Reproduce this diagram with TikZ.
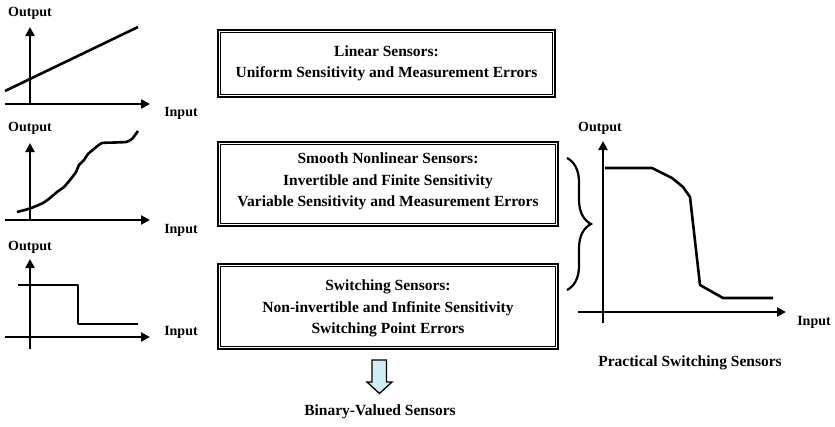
\documentclass[tikz,border=0pt]{standalone}
\usepackage{fontspec}
\setmainfont{Liberation Serif}
\usetikzlibrary{arrows.meta,decorations.pathreplacing}
\definecolor{arrowfill}{HTML}{CDEFF3}
\tikzset{
  ax/.style={line width=2.6pt,-{Triangle[length=9pt,width=9pt]}},
  axplain/.style={line width=2.6pt},
  crv/.style={line width=2.6pt,line join=round},
  lbl/.style={font=\fontsize{14}{16}\selectfont\bfseries,inner sep=0pt},
  boxtxt/.style={font=\fontsize{15.5}{21.5}\selectfont\bfseries,align=center,inner sep=0pt},
  sbox/.style={draw,line width=1.8pt,inner sep=0pt},
  inner/.style={line width=0.9pt},
}
\begin{document}
\begin{tikzpicture}[x=1pt,y=-1pt]
\useasboundingbox (0,0) rectangle (835,426);
% ---------- graph 1 ----------
\node[lbl] (o1) at (30,13) {Output};
\node[lbl] (i1) at (181,113) {Input};
\coordinate (g1h0) at (5,104); \coordinate (g1h1) at (150,104);
\coordinate (g1v0) at (30,104); \coordinate (g1v1) at (30,27);
\draw[ax] (g1h0) -- (g1h1);
\draw[ax] (g1v0) -- (g1v1);
\coordinate (l1a) at (5,91); \coordinate (l1b) at (138,27);
\draw[crv] (l1a) -- (l1b);
% ---------- graph 2 ----------
\node[lbl] (o2) at (30,128) {Output};
\node[lbl] (i2) at (181,230) {Input};
\coordinate (g2h0) at (5,220); \coordinate (g2h1) at (150,220);
\coordinate (g2v0) at (30,220); \coordinate (g2v1) at (30,143);
\draw[ax] (g2h0) -- (g2h1);
\draw[ax] (g2v0) -- (g2v1);
\draw[crv] plot[smooth,tension=0.25] coordinates {(17,212) (30,208.5) (43,203) (50,198) (57,192) (64,187) (70,180) (76,172) (79,165) (84,160) (88,154) (95,148) (102,143) (115,142.5) (126,142) (132,139) (138,131)};
% ---------- graph 3 ----------
\node[lbl] (o3) at (30,247) {Output};
\node[lbl] (i3) at (181,332) {Input};
\coordinate (g3h0) at (5,337); \coordinate (g3h1) at (150,337);
\coordinate (g3v0) at (30,349); \coordinate (g3v1) at (30,259);
\draw[ax] (g3h0) -- (g3h1);
\draw[ax] (g3v0) -- (g3v1);
\draw[crv] (18,285) -- (78,285) -- (78,324) -- (138,324);
% ---------- boxes ----------
\node[sbox,minimum width=337pt,minimum height=67pt] (b1) at (386.5,63.5) {};
\node[boxtxt] (t1) at (b1.center) {Linear Sensors:\\Uniform Sensitivity and Measurement Errors};
\node[sbox,minimum width=340pt,minimum height=84pt] (b2) at (388,184) {};
\node[boxtxt] (t2) at (388,181.5) {Smooth Nonlinear Sensors:\\Invertible and Finite Sensitivity\\Variable Sensitivity and Measurement Errors};
\node[sbox,minimum width=340pt,minimum height=85pt] (b3) at (388,306.5) {};
\node[boxtxt] (t3) at (388,308.5) {Switching Sensors:\\Non-invertible and Infinite Sensitivity\\Switching Point Errors};
\foreach \b in {b1,b2,b3}{
  \draw[inner] ([shift={(3.5pt,-3.5pt)}]\b.north west) rectangle ([shift={(-3.5pt,3.5pt)}]\b.south east);
}
% ---------- brace ----------
\coordinate (br0) at (567,158); \coordinate (br1) at (567,290);
\draw[line width=2.2pt,decorate,decoration={brace,amplitude=24pt}] (br0) -- (br1);
% ---------- graph 4 ----------
\node[lbl] (o4) at (600,128) {Output};
\node[lbl] (i4) at (814,322) {Input};
\coordinate (g4h0) at (578,312); \coordinate (g4h1) at (786,312);
\coordinate (g4v0) at (603,323); \coordinate (g4v1) at (603,141);
\draw[ax] (g4h0) -- (g4h1);
\draw[ax] (g4v0) -- (g4v1);
\draw[crv] (605,168) -- (652,168) -- (672,178) -- (683,187) -- (690,197) -- (700,285) -- (723,298) -- (773,298);
\node[boxtxt] (ps) at (690,363) {Practical Switching Sensors};
% ---------- down arrow ----------
\draw[line width=1.3pt,fill=arrowfill,line join=miter]
  (372,360) -- (386.5,360) -- (386.5,382) -- (392,382) -- (379.5,393.5) -- (367,382) -- (372,382) -- cycle;
\node[boxtxt] (bv) at (380,412) {Binary-Valued Sensors};
\end{tikzpicture}
\end{document}
